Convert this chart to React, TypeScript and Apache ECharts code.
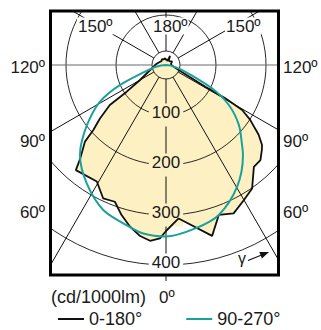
import React, { useEffect, useRef } from "react";
import * as echarts from "echarts";

const FONT = '"Liberation Sans", Arial, sans-serif';

// Luminous intensity, [gamma (deg), cd/1000lm]
// C0-180 plane, left half (gamma 0 = down, 180 = up)
const plane0Left: [number, number][] = [
  [0, 332], [2, 347], [5.2, 353], [8.6, 346], [12.6, 331], [16.5, 313],
  [20.5, 292], [25.2, 295], [30.7, 271], [40.6, 277], [42.6, 253],
  [46.6, 223], [48.2, 195], [51, 170], [54.5, 138], [55.8, 95], [60, 60],
  [77, 29], [90, 22], [100, 18], [115, 14], [130, 12], [145, 14],
  [160, 12], [172, 14], [180, 10],
];
// C0-180 plane, right half
const plane0Right: [number, number][] = [
  [0, 332], [4.7, 308], [15.1, 354], [19.4, 318], [24.5, 326], [29.9, 312],
  [34.9, 301], [40.8, 269], [44.8, 268], [48.5, 256], [50.2, 250],
  [53, 232], [56.9, 201], [59.4, 177], [60.7, 136], [61.1, 90], [68.5, 27],
  [85, 12], [100, 10], [120, 14], [140, 10], [150, 12], [156, 20],
  [162, 8], [172, 12], [180, 10],
];
// C90-270 plane, left half
const plane90Left: [number, number][] = [
  [0, 343], [7.7, 340], [13.8, 330], [23.4, 316], [33.8, 285], [43.7, 249],
  [47.7, 228], [53.9, 192], [60.9, 151], [66.5, 100], [78, 27], [85, 10],
  [90, 0],
];
// C90-270 plane, right half
const plane90Right: [number, number][] = [
  [0, 343], [10.2, 332], [19.4, 318], [30.3, 282], [40.5, 237], [43.5, 221],
  [50.5, 189], [57.5, 149], [63.1, 103], [72.6, 34], [85, 8], [90, 0],
];

const innerRingValue = 28;
const radiusTicks = [100, 200, 300, 400];
const topAngleLabels = ["150º", "180º", "150º"];
const leftAngleLabels = ["120º", "90º", "60º"];
const rightAngleLabels = ["120º", "90º", "60º"];
const bottomAngleLabel = "0º";
const unitLabel = "(cd/1000lm)";
const legendNames = ["0-180°", "90-270°"];

// layout (pixels)
const CX = 166;
const CY = 65;
const R = 250;
const BOX = { x: 50, y: 11, w: 229, h: 264 };
const topLabelX = [77, 152, 225];
const topLabelY = 26;
const sideLabelY = [67, 141, 212];
const TEXT = "#1a1a1a";
const FILL = "#FDF1C4";
const TEAL = "#1aa19c";

function toPolar(left: [number, number][], right: [number, number][]) {
  const l = left.slice().reverse().map(([g, v]) => [v, g]);
  const r = right.map(([g, v]) => [v, 360 - g]);
  return [...l, ...r];
}

function txt(text: string, x: number, y: number, align: string, bg?: string, size = 17) {
  return {
    type: "text",
    z: 11,
    silent: true,
    style: {
      text,
      x,
      y,
      fill: TEXT,
      fontSize: size,
      fontFamily: FONT,
      align,
      verticalAlign: "middle",
      backgroundColor: bg,
      padding: bg ? [0, 1] : 0,
    },
  };
}

export default function App() {
  const ref = useRef<HTMLDivElement>(null);
  useEffect(() => {
    document.body.style.margin = "0";
    if (!ref.current) return;
    const chart = echarts.init(ref.current, null, { renderer: "svg" });
    const plane0Data = toPolar(plane0Left, plane0Right);
    const plane90Data = toPolar(plane90Left, plane90Right);
    const splitColors = Array.from({ length: 13 }, (_, i) =>
      i === 3 || i === 9 ? "#6a6a6a" : "#111"
    );

    const graphics: any[] = [
      // masks outside the frame
      { type: "rect", z: 10, silent: true, shape: { x: 0, y: 0, width: 321, height: BOX.y }, style: { fill: "#fff" } },
      { type: "rect", z: 10, silent: true, shape: { x: 0, y: 0, width: BOX.x, height: 330 }, style: { fill: "#fff" } },
      { type: "rect", z: 10, silent: true, shape: { x: BOX.x + BOX.w, y: 0, width: 321, height: 330 }, style: { fill: "#fff" } },
      { type: "rect", z: 10, silent: true, shape: { x: 0, y: BOX.y + BOX.h, width: 321, height: 60 }, style: { fill: "#fff" } },
      { type: "rect", z: 11, silent: true, shape: { x: BOX.x + 0.5, y: BOX.y, width: BOX.w - 1, height: BOX.h }, style: { fill: "none", stroke: "#000", lineWidth: 3 } },
      { type: "line", z: 11, silent: true, shape: { x1: CX, y1: BOX.y + BOX.h, x2: CX, y2: BOX.y + BOX.h + 6 }, style: { stroke: "#111", lineWidth: 1 } },
      // gamma arrow
      { type: "line", z: 11, silent: true, shape: { x1: 248, y1: 260.5, x2: 261, y2: 255.2 }, style: { stroke: "#111", lineWidth: 1.2 } },
      { type: "polygon", z: 11, silent: true, shape: { points: [[269, 252], [261.9, 258.6], [259.3, 252]] }, style: { fill: "#111" } },
      txt("γ", 242, 258, "center", undefined, 16),
    ];
    topAngleLabels.forEach((t, i) => graphics.push(txt(t, topLabelX[i], topLabelY, "left", "#fff")));
    leftAngleLabels.forEach((t, i) => graphics.push(txt(t, 45, sideLabelY[i], "right")));
    rightAngleLabels.forEach((t, i) => graphics.push(txt(t, 283, sideLabelY[i], "left")));
    graphics.push(txt(bottomAngleLabel, 159, 297, "left"));
    graphics.push(txt(unitLabel, 51, 297, "left", undefined, 18));

    const labelRich = (bg: string) => ({
      color: TEXT,
      fontSize: 17,
      fontFamily: FONT,
      backgroundColor: bg,
      padding: [0, 3, 6, 3],
    });

    chart.setOption({
      animation: false,
      polar: [
        { center: [CX, CY], radius: R },
        { center: [CX, CY], radius: [14, R] },
      ],
      angleAxis: [
        {
          polarIndex: 0,
          type: "value",
          min: 0,
          max: 360,
          startAngle: 270,
          clockwise: true,
          show: false,
        },
        {
          polarIndex: 1,
          type: "value",
          min: 0,
          max: 360,
          interval: 30,
          startAngle: 270,
          clockwise: true,
          z: 5,
          axisLine: { show: false },
          axisTick: { show: false },
          axisLabel: { show: false },
          splitLine: { show: true, lineStyle: { color: splitColors, width: 1 } },
        },
      ],
      radiusAxis: [
        { polarIndex: 0, type: "value", min: 0, max: 500, show: false },
        {
          polarIndex: 1,
          type: "value",
          min: innerRingValue,
          max: 500,
          splitNumber: 5,
          z: 5,
          axisLine: { show: false },
          axisTick: { show: false },
          splitLine: { show: true, lineStyle: { color: "#111", width: 0.9 } },
          axisLabel: {
            show: true,
            margin: 0,
            rotate: 0,
            align: "center",
            verticalAlign: "middle",
            formatter: (v: number) => {
              if (!radiusTicks.includes(v)) return "";
              return v === radiusTicks[radiusTicks.length - 1] ? `{w|${v}}` : `{y|${v}}`;
            },
            rich: { y: labelRich(FILL), w: labelRich("#fff") },
          },
        },
      ],
      legend: {
        z: 12,
        left: 53,
        top: 305,
        itemWidth: 26,
        itemHeight: 2,
        itemGap: 44,
        selectedMode: false,
        textStyle: { fontSize: 18, fontFamily: FONT, color: TEXT },
        data: [
          { name: legendNames[0], icon: "rect" },
          { name: legendNames[1], icon: "rect" },
        ],
      },
      series: [
        {
          name: "fill",
          type: "line",
          coordinateSystem: "polar",
          polarIndex: 0,
          data: plane0Data,
          symbol: "none",
          silent: true,
          z: 3,
          lineStyle: { width: 0, opacity: 0 },
          areaStyle: { color: FILL, opacity: 1 },
        },
        {
          name: legendNames[0],
          type: "line",
          coordinateSystem: "polar",
          polarIndex: 0,
          data: plane0Data,
          symbol: "none",
          z: 6,
          itemStyle: { color: "#111" },
          lineStyle: { color: "#111", width: 1.8 },
        },
        {
          name: legendNames[1],
          type: "line",
          coordinateSystem: "polar",
          polarIndex: 0,
          data: plane90Data,
          symbol: "none",
          smooth: 0.3,
          z: 6,
          itemStyle: { color: TEAL },
          lineStyle: { color: TEAL, width: 2 },
        },
      ],
      graphic: { elements: graphics },
    });
    return () => chart.dispose();
  }, []);
  return <div ref={ref} style={{ width: 321, height: 330 }} />;
}
